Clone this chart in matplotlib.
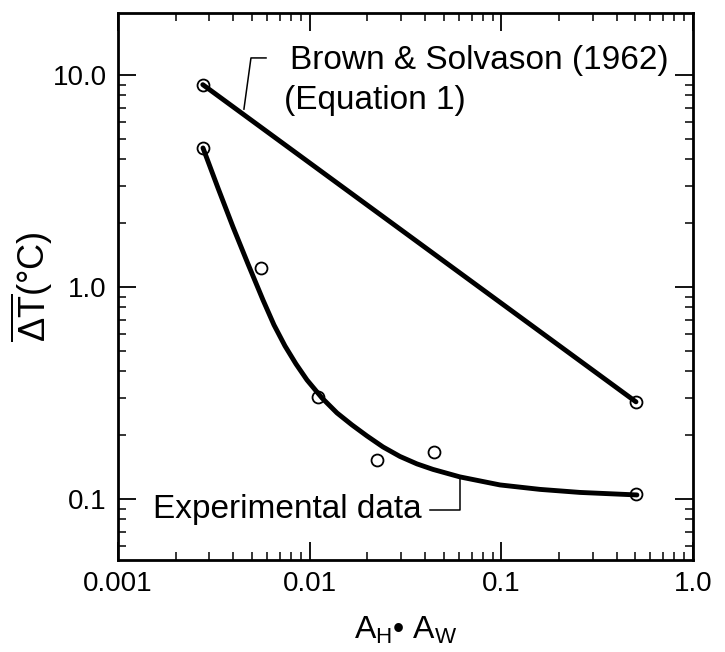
import matplotlib
matplotlib.use("Agg")
import matplotlib.pyplot as plt
from matplotlib.ticker import FixedLocator, FixedFormatter, LogLocator, NullFormatter

plt.rcParams['font.family'] = ['Liberation Sans', 'DejaVu Sans']
plt.rcParams['mathtext.fontset'] = 'custom'
plt.rcParams['mathtext.rm'] = 'Liberation Sans'
plt.rcParams['mathtext.it'] = 'Liberation Sans:italic'
plt.rcParams['mathtext.bf'] = 'Liberation Sans:bold'

# Brown & Solvason (1962), equation 1 - straight line on log-log
brown_x = [0.00277, 0.504]
brown_y = [9.0, 0.287]

# experimental points
exp_x = [0.00277, 0.00557, 0.0110, 0.0224, 0.0445, 0.505]
exp_y = [4.53, 1.23, 0.303, 0.153, 0.166, 0.1056]

fit_x = [0.002776, 0.003323, 0.003980, 0.004766, 0.005706, 0.006513, 0.007433,
         0.008482, 0.009680, 0.01159, 0.01388, 0.01662, 0.01990, 0.02412,
         0.02959, 0.03628, 0.04398, 0.06081, 0.09833, 0.1590, 0.2570, 0.5097]
fit_y = [4.525, 2.931, 1.919, 1.284, 0.8683, 0.6619, 0.5268,
         0.4333, 0.3641, 0.2995, 0.2545, 0.2234, 0.1982, 0.1759,
         0.1586, 0.1463, 0.1378, 0.1270, 0.1164, 0.1109, 0.1073, 0.1044]

xtick_vals = [0.001, 0.01, 0.1, 1.0]
xtick_labels = ['0.001', '0.01', '0.1', '1.0']
ytick_vals = [0.1, 1.0, 10.0]
ytick_labels = ['0.1', '1.0', '10.0']

fig = plt.figure(figsize=(7.25, 6.52), dpi=100)
ax = fig.add_axes([118 / 725, 1 - 560 / 652, 575 / 725, 547 / 652])
ax.set_xscale('log')
ax.set_yscale('log')
ax.set_xlim(0.001, 1.0)
ax.set_ylim(0.0515, 19.6)

# circles first, thick lines on top
ax.plot(brown_x, brown_y, 'o', ms=8.6, mfc='none', mec='black', mew=1.3, zorder=2)
ax.plot(exp_x, exp_y, 'o', ms=8.6, mfc='none', mec='black', mew=1.3, zorder=2)
ax.plot(brown_x, brown_y, '-', color='black', lw=3.5, solid_capstyle='round', zorder=3)
ax.plot(fit_x, fit_y, '-', color='black', lw=3.5, solid_capstyle='round',
        solid_joinstyle='round', zorder=3)

# labels with leader lines
ax.text(0.00788, 10.67, 'Brown & Solvason (1962)', fontsize=24, ha='left', va='baseline')
ax.text(0.00735, 6.91, '(Equation 1)', fontsize=24, ha='left', va='baseline')
ax.plot([0.00592, 0.00494, 0.00454], [12.03, 12.03, 6.9], '-', color='black', lw=1.1)

ax.text(0.0386, 0.0813, 'Experimental data', fontsize=24, ha='right', va='baseline')
ax.plot([0.0424, 0.0608, 0.0608], [0.0887, 0.0887, 0.1256], '-', color='black', lw=1.1)

# axes styling
for s in ax.spines.values():
    s.set_linewidth(2.0)
ax.xaxis.set_major_locator(FixedLocator(xtick_vals))
ax.xaxis.set_major_formatter(FixedFormatter(xtick_labels))
ax.yaxis.set_major_locator(FixedLocator(ytick_vals))
ax.yaxis.set_major_formatter(FixedFormatter(ytick_labels))
ax.xaxis.set_minor_locator(LogLocator(base=10, subs=range(2, 10)))
ax.yaxis.set_minor_locator(LogLocator(base=10, subs=range(2, 10)))
ax.xaxis.set_minor_formatter(NullFormatter())
ax.yaxis.set_minor_formatter(NullFormatter())
ax.tick_params(which='both', direction='in', top=True, right=True, labelsize=20, pad=8)
ax.tick_params(which='major', length=13, width=1.3)
ax.tick_params(which='minor', length=5.5, width=1.1)

ax.set_ylabel(r'$\overline{\Delta\mathrm{T}}$(°C)', fontsize=26)
ax.yaxis.set_label_coords(-0.11, 0.5)
ax.set_xlabel(r'A$_{\mathrm{H}}$• A$_{\mathrm{W}}$', fontsize=23)
ax.xaxis.set_label_coords(0.5, -0.10)

fig.savefig('out.png', dpi=100, facecolor='white')
